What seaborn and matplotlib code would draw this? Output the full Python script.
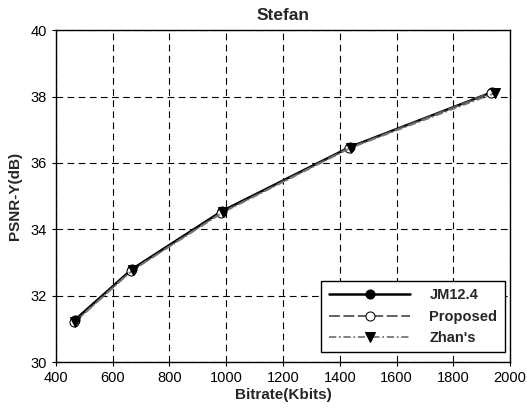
import pandas as pd
import seaborn as sns
import matplotlib
matplotlib.use("Agg")
import matplotlib.pyplot as plt

# Stefan sequence RD curves
jm_rate = [467, 668, 985, 1436, 1936]
jm_psnr = [31.27, 32.80, 34.55, 36.48, 38.13]

prop_rate = [465, 665, 982, 1432, 1932]
prop_psnr = [31.20, 32.75, 34.50, 36.45, 38.12]

zhan_rate = [468, 670, 990, 1440, 1945]
zhan_psnr = [31.22, 32.77, 34.52, 36.46, 38.10]

sns.set_style("white")
plt.rcParams['font.family'] = ['Liberation Sans', 'DejaVu Sans']

fig = plt.figure(figsize=(5.27, 4.13), dpi=100)
ax = fig.add_axes([0.106, 0.123, 0.862, 0.804])

sns.lineplot(x=jm_rate, y=jm_psnr, ax=ax, color="black", lw=1.8, marker="o",
             markersize=6.5, markerfacecolor="black", markeredgecolor="black",
             label="JM12.4", zorder=3)
sns.lineplot(x=prop_rate, y=prop_psnr, ax=ax, color="#555555", lw=1.3,
             linestyle=(0, (6, 2)), marker="o", markersize=6.5,
             markerfacecolor="white", markeredgecolor="black",
             label="Proposed", zorder=4)
sns.lineplot(x=zhan_rate, y=zhan_psnr, ax=ax, color="#777777", lw=1.3,
             linestyle=(0, (4, 1.5, 1, 1.5)), marker="v", markersize=6.5,
             markerfacecolor="black", markeredgecolor="black",
             label="Zhan's", zorder=5)

ax.set_xlim(400, 2000)
ax.set_ylim(30, 40)
ax.set_xticks(range(400, 2001, 200))
ax.set_yticks(range(30, 41, 2))
ax.grid(True, color="black", linestyle=(0, (6, 4)), linewidth=0.8)
for s in ax.spines.values():
    s.set_color("black")
    s.set_linewidth(1.0)
ax.tick_params(axis="both", direction="out", length=3, width=0.8,
               labelsize=10.5, colors="black", bottom=True, left=True)

ax.set_title("Stefan", fontsize=12.5, fontweight="bold", pad=7)
ax.set_xlabel("Bitrate(Kbits)", fontsize=11, fontweight="bold", labelpad=2)
ax.set_ylabel("PSNR-Y(dB)", fontsize=11, fontweight="bold", labelpad=6)

leg = ax.legend(loc="lower right", frameon=True, fancybox=False, fontsize=10.5,
                handlelength=5.6, borderpad=0.5, labelspacing=0.5,
                handletextpad=1.3, borderaxespad=0,
                bbox_to_anchor=(0.988, 0.03))
leg.get_frame().set_edgecolor("black")
leg.get_frame().set_linewidth(1.0)
leg.get_frame().set_alpha(1)
for t in leg.get_texts():
    t.set_fontweight("bold")

fig.savefig("out.png", dpi=100)
